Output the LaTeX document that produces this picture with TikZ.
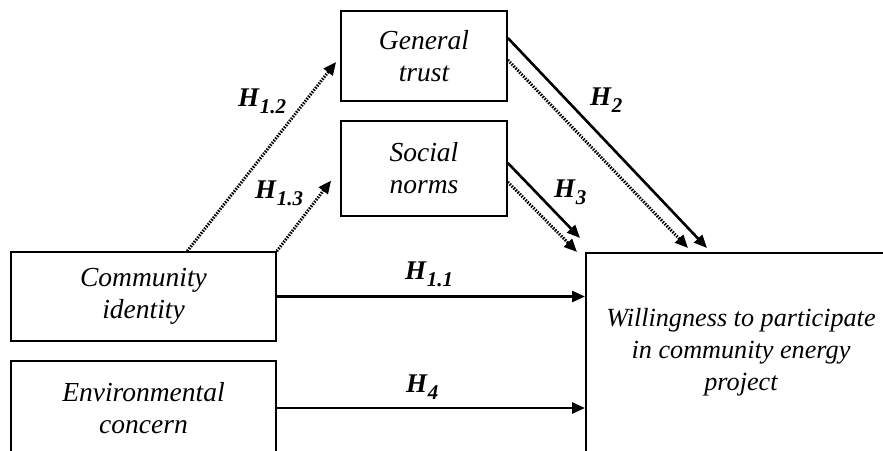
\documentclass[tikz,border=0pt]{standalone}
\usepackage{fontspec}
\setmainfont{Liberation Serif}
\usetikzlibrary{arrows.meta,calc}
\newcommand{\hyp}[1]{\textbf{\textit{H}}\raisebox{-7pt}{\fontsize{21}{21}\selectfont\bfseries\itshape #1}}
\begin{document}
\begin{tikzpicture}[x=1pt,y=-1pt,
  box/.style={draw, line width=1.7pt, inner sep=0pt, align=center, font=\fontsize{27.5}{32}\selectfont\itshape},
  solidarrow/.style={line width=2.6pt, -{Triangle[length=13pt,width=11pt]}},
  dotarrow/.style={line width=3pt, dash pattern=on 1.5pt off 1.3pt, -{Triangle[length=13pt,width=11pt]}},
  hlab/.style={anchor=base west, inner sep=0pt, font=\fontsize{27}{27}\selectfont}]
\useasboundingbox (0,0) rectangle (883,450);
\clip (0,0) rectangle (883,450);

\node[box, minimum width=166pt, minimum height=90pt] (gt) at (424,56) {General\\trust};
\node[box, minimum width=166pt, minimum height=95pt] (sn) at (424,168.5) {Social\\norms};
\node[box, minimum width=265pt, minimum height=89pt] (ci) at (143.5,296.5) {Community\\identity};
\node[box, minimum width=265pt, minimum height=94pt] (ec) at (143.5,408) {Environmental\\concern};
\node[draw, line width=1.7pt, inner sep=0pt, minimum width=330pt, minimum height=230pt, anchor=north west] (will) at (585,252) {};
\node[inner sep=0pt, align=center, font=\fontsize{26.2}{32}\selectfont\itshape] (willtext) at (741,352) {Willingness to participate\\in community energy\\project};

\coordinate (c12s) at ($(ci.north west)!0.664!(ci.north east)$);

\draw[solidarrow] (ci.east) -- (ci.east -| will.west);
\draw[solidarrow] (ec.east) -- (ec.east -| will.west);
\draw[dotarrow] (c12s) -- ([xshift=-4pt,yshift=-6pt]gt.west);
\draw[dotarrow] (ci.north east) -- ([xshift=-9pt,yshift=-12pt]sn.west);
\draw[solidarrow] ([yshift=18pt]gt.east) -- ([xshift=122pt,yshift=4pt]will.north west);
\draw[dotarrow] ([yshift=-4pt]gt.east) -- ([xshift=103pt,yshift=4pt]will.north west);
\draw[solidarrow] ([yshift=5.5pt]sn.east) -- ([xshift=-5pt,yshift=14pt]will.north west);
\draw[dotarrow] ([yshift=-13.5pt]sn.east) -- ([xshift=-8pt,yshift=0pt]will.north west);

\node[hlab] (h12) at (238,106) {\hyp{1.2}};
\node[hlab] (h13) at (255,198) {\hyp{1.3}};
\node[hlab] (h2) at (590,105) {\hyp{2}};
\node[hlab] (h3) at (554,197) {\hyp{3}};
\node[hlab] (h11) at (405,279) {\hyp{1.1}};
\node[hlab] (h4) at (406,392) {\hyp{4}};
\end{tikzpicture}
\end{document}
